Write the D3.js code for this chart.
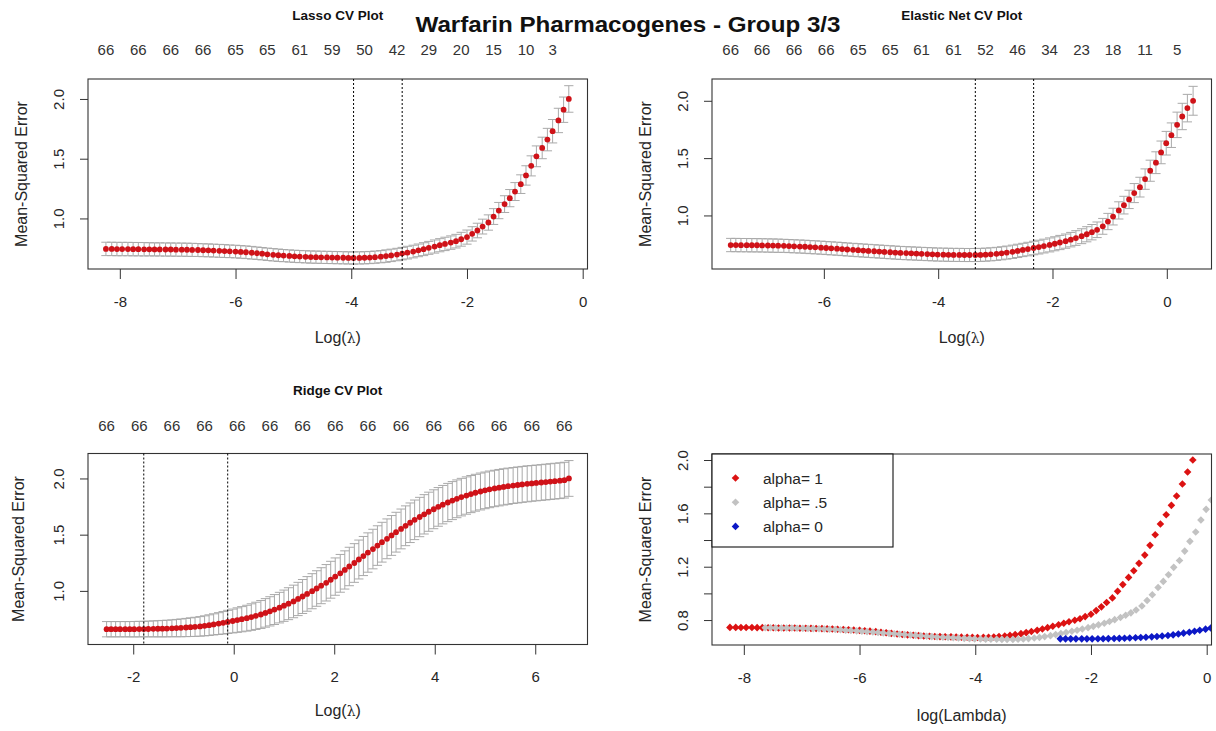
<!DOCTYPE html>
<html><head><meta charset="utf-8">
<script src="https://cdn.jsdelivr.net/npm/d3@7"></script>
<style>
body{margin:0;background:#fff;}
svg{display:block;}
</style></head><body>
<svg id="chart" width="1216" height="731"></svg>
<script>
// ---------------- DATA ----------------
const mainTitle = "Warfarin Pharmacogenes - Group 3/3";

// Lasso (alpha = 1)
const lassoLogLambda = [-8.24,-8.14,-8.05,-7.96,-7.86,-7.77,-7.68,-7.58,-7.49,-7.40,
 -7.31,-7.21,-7.12,-7.03,-6.93,-6.84,-6.75,-6.65,-6.56,-6.47,
 -6.38,-6.28,-6.19,-6.10,-6.00,-5.91,-5.82,-5.72,-5.63,-5.54,
 -5.45,-5.35,-5.26,-5.17,-5.07,-4.98,-4.89,-4.79,-4.70,-4.61,
 -4.52,-4.42,-4.33,-4.24,-4.14,-4.05,-3.96,-3.86,-3.77,-3.68,
 -3.59,-3.49,-3.40,-3.31,-3.21,-3.12,-3.03,-2.93,-2.84,-2.75,
 -2.66,-2.56,-2.47,-2.38,-2.28,-2.19,-2.10,-2.00,-1.91,-1.82,
 -1.73,-1.63,-1.54,-1.45,-1.35,-1.26,-1.17,-1.07,-0.98,-0.89,
 -0.80,-0.70,-0.61,-0.52,-0.42,-0.33,-0.24];
const lassoCvm = [0.745,0.745,0.744,0.744,0.744,0.743,0.743,0.742,0.742,0.741,
 0.741,0.740,0.740,0.739,0.739,0.738,0.737,0.736,0.734,0.733,
 0.731,0.729,0.727,0.725,0.723,0.720,0.717,0.713,0.709,0.705,
 0.700,0.696,0.692,0.689,0.686,0.683,0.681,0.679,0.677,0.676,
 0.675,0.674,0.673,0.672,0.671,0.670,0.669,0.670,0.671,0.673,
 0.676,0.680,0.685,0.691,0.698,0.706,0.714,0.723,0.733,0.743,
 0.754,0.765,0.776,0.787,0.798,0.810,0.826,0.844,0.871,0.899,
 0.932,0.966,1.016,1.066,1.120,1.170,1.225,1.287,1.360,1.440,
 1.520,1.590,1.660,1.730,1.820,1.910,2.000];
const lassoCvsd = [0.056,0.056,0.056,0.056,0.056,0.056,0.056,0.056,0.055,0.055,
 0.055,0.055,0.055,0.055,0.055,0.055,0.055,0.054,0.054,0.054,
 0.054,0.054,0.054,0.053,0.053,0.053,0.053,0.053,0.052,0.052,
 0.052,0.052,0.052,0.051,0.051,0.051,0.051,0.051,0.051,0.051,
 0.051,0.051,0.051,0.051,0.051,0.051,0.051,0.051,0.051,0.051,
 0.051,0.051,0.052,0.052,0.052,0.052,0.053,0.053,0.053,0.054,
 0.054,0.055,0.055,0.056,0.056,0.057,0.058,0.059,0.060,0.061,
 0.062,0.064,0.066,0.068,0.070,0.072,0.075,0.078,0.081,0.084,
 0.087,0.090,0.094,0.098,0.102,0.106,0.111];
const lassoTopIdx = [0,6,12,18,24,30,36,42,48,54,60,66,72,78,83];
const lassoTopLabels = ["66","66","66","66","65","65","61","59","50","42","29","20","15","10","3"];
const lassoVLines = [-3.96,-3.12];

// Elastic net (alpha = 0.5)
const enLogLambda = [-7.63,-7.54,-7.45,-7.35,-7.26,-7.17,-7.08,-6.98,-6.89,-6.80,
 -6.70,-6.61,-6.52,-6.42,-6.33,-6.24,-6.15,-6.05,-5.96,-5.87,
 -5.77,-5.68,-5.59,-5.49,-5.40,-5.31,-5.22,-5.12,-5.03,-4.94,
 -4.84,-4.75,-4.66,-4.56,-4.47,-4.38,-4.29,-4.19,-4.10,-4.01,
 -3.91,-3.82,-3.73,-3.63,-3.54,-3.45,-3.35,-3.26,-3.17,-3.08,
 -2.98,-2.89,-2.80,-2.70,-2.61,-2.52,-2.43,-2.33,-2.24,-2.15,
 -2.05,-1.96,-1.87,-1.77,-1.68,-1.59,-1.49,-1.40,-1.31,-1.22,
 -1.12,-1.03,-0.94,-0.84,-0.75,-0.66,-0.57,-0.47,-0.38,-0.29,
 -0.19,-0.10,-0.01,0.08,0.18,0.27,0.36,0.46];
const enCvm = [0.742,0.742,0.741,0.741,0.740,0.740,0.739,0.738,0.737,0.736,
 0.735,0.733,0.731,0.729,0.727,0.724,0.722,0.719,0.716,0.713,
 0.710,0.707,0.703,0.700,0.697,0.694,0.691,0.688,0.685,0.682,
 0.679,0.676,0.673,0.671,0.669,0.667,0.665,0.663,0.661,0.659,
 0.658,0.657,0.656,0.656,0.655,0.655,0.655,0.656,0.658,0.661,
 0.665,0.670,0.676,0.683,0.691,0.699,0.707,0.716,0.724,0.733,
 0.743,0.753,0.764,0.776,0.789,0.803,0.819,0.836,0.854,0.875,
 0.905,0.947,0.990,1.044,1.090,1.140,1.195,1.247,1.317,1.390,
 1.460,1.550,1.630,1.700,1.790,1.863,1.936,2.000];
const enCvsd = [0.058,0.058,0.058,0.058,0.058,0.058,0.058,0.058,0.058,0.058,
 0.057,0.057,0.057,0.057,0.057,0.057,0.057,0.057,0.057,0.057,
 0.057,0.057,0.057,0.057,0.057,0.057,0.057,0.057,0.057,0.057,
 0.057,0.057,0.057,0.057,0.057,0.057,0.057,0.057,0.057,0.057,
 0.057,0.057,0.057,0.057,0.057,0.057,0.057,0.057,0.057,0.057,
 0.057,0.057,0.057,0.058,0.058,0.058,0.059,0.059,0.060,0.060,
 0.061,0.061,0.062,0.062,0.063,0.064,0.065,0.066,0.067,0.068,
 0.069,0.071,0.073,0.075,0.077,0.080,0.083,0.086,0.089,0.092,
 0.095,0.099,0.103,0.107,0.111,0.115,0.120,0.126];
const enTopIdx = [0,6,12,18,24,30,36,42,48,54,60,66,72,78,84];
const enTopLabels = ["66","66","66","66","65","65","61","61","52","46","34","23","18","11","5"];
const enVLines = [-3.35,-2.33];

// Ridge (alpha = 0)
const ridgeLogLambda = [-2.53,-2.44,-2.35,-2.26,-2.16,-2.07,-1.98,-1.88,-1.79,-1.70,
 -1.60,-1.51,-1.42,-1.33,-1.23,-1.14,-1.05,-0.95,-0.86,-0.77,
 -0.67,-0.58,-0.49,-0.40,-0.30,-0.21,-0.12,-0.02,0.07,0.16,
 0.26,0.35,0.44,0.54,0.63,0.72,0.81,0.91,1.00,1.09,
 1.19,1.28,1.37,1.46,1.56,1.65,1.74,1.84,1.93,2.02,
 2.12,2.21,2.30,2.40,2.49,2.58,2.67,2.77,2.86,2.95,
 3.05,3.14,3.23,3.33,3.42,3.51,3.60,3.70,3.79,3.88,
 3.98,4.07,4.16,4.26,4.35,4.44,4.53,4.63,4.72,4.81,
 4.91,5.00,5.09,5.19,5.28,5.37,5.46,5.56,5.65,5.74,
 5.84,5.93,6.02,6.12,6.21,6.30,6.39,6.49,6.58,6.67];
const ridgeCvm = [0.659,0.659,0.659,0.659,0.659,0.659,0.659,0.660,0.660,0.661,
 0.662,0.663,0.664,0.665,0.667,0.669,0.671,0.674,0.677,0.680,
 0.684,0.689,0.695,0.702,0.709,0.716,0.724,0.732,0.740,0.748,
 0.757,0.767,0.778,0.790,0.804,0.818,0.834,0.851,0.868,0.886,
 0.906,0.928,0.950,0.973,0.997,1.021,1.046,1.072,1.099,1.127,
 1.156,1.186,1.217,1.248,1.279,1.310,1.341,1.372,1.403,1.433,
 1.463,1.493,1.522,1.551,1.579,1.606,1.632,1.657,1.681,1.704,
 1.726,1.747,1.767,1.786,1.803,1.819,1.834,1.848,1.861,1.873,
 1.884,1.894,1.903,1.911,1.918,1.925,1.931,1.937,1.942,1.947,
 1.952,1.956,1.960,1.964,1.968,1.972,1.976,1.980,1.985,2.000];
const ridgeCvsd = [0.068,0.068,0.068,0.068,0.068,0.068,0.069,0.069,0.069,0.070,
 0.071,0.072,0.073,0.074,0.075,0.077,0.079,0.081,0.083,0.085,
 0.087,0.089,0.092,0.094,0.097,0.100,0.103,0.106,0.109,0.112,
 0.115,0.118,0.121,0.124,0.127,0.130,0.133,0.136,0.139,0.142,
 0.145,0.148,0.151,0.154,0.156,0.158,0.160,0.162,0.164,0.166,
 0.168,0.170,0.171,0.172,0.173,0.174,0.175,0.176,0.176,0.177,
 0.177,0.177,0.177,0.177,0.177,0.176,0.176,0.175,0.175,0.174,
 0.173,0.172,0.171,0.170,0.169,0.168,0.167,0.166,0.165,0.164,
 0.164,0.163,0.163,0.162,0.162,0.161,0.161,0.160,0.160,0.160,
 0.160,0.159,0.159,0.159,0.159,0.159,0.159,0.159,0.159,0.159];
const ridgeTopIdx = [0,7,14,21,28,35,42,49,56,63,70,77,84,91,98];
const ridgeTopLabels = ["66","66","66","66","66","66","66","66","66","66","66","66","66","66","66"];
const ridgeVLines = [-1.79,-0.12];

// Axis ticks
const lassoXTicks = [-8,-6,-4,-2,0];
const enXTicks = [-6,-4,-2,0];
const ridgeXTicks = [-2,0,2,4,6];
const cvYTicks = [1.0,1.5,2.0];
const cmpXTicks = [-8,-6,-4,-2,0];
const cmpYTicks = [0.8,1.0,1.2,1.4,1.6,1.8,2.0];
const cmpYLabels = [0.8,1.2,1.6,2.0];
const legendLabels = ["alpha= 1","alpha= .5","alpha= 0"];
const legendColors = ["#dc1212","#c2c2c2","#0c18c6"];

// ---------------- DRAWING ----------------
const svg = d3.select("#chart");
const FONT = '"Liberation Sans", Arial, Helvetica, sans-serif';
const INK = "#262626";

svg.append("rect").attr("width",1216).attr("height",731).attr("fill","#fff");

function frame(cfg) {
  const g = svg.append("g");
  const b = cfg.box;
  const x = d3.scaleLinear().domain(cfg.xDomain).range([b.x0, b.x1]);
  const y = d3.scaleLinear().domain(cfg.yDomain).range([b.y1, b.y0]);
  const clipId = "clip-" + cfg.id;
  svg.append("clipPath").attr("id", clipId).append("rect")
    .attr("x", b.x0).attr("y", b.y0).attr("width", b.x1 - b.x0).attr("height", b.y1 - b.y0);
  const plot = g.append("g").attr("clip-path", `url(#${clipId})`);

  const xa = g.append("g").attr("transform", `translate(0,${b.y1})`)
    .call(d3.axisBottom(x).tickValues(cfg.xTicks).tickSize(10).tickFormat(d => String(d)));
  xa.select(".domain").remove();
  xa.attr("font-size", 15).attr("font-family", FONT).attr("color", INK);
  xa.selectAll(".tick line").attr("stroke", "#333");
  xa.selectAll(".tick text").attr("y", cfg.xLabelOffset).attr("dy", null);

  const ya = g.append("g").attr("transform", `translate(${b.x0},0)`)
    .call(d3.axisLeft(y).tickValues(cfg.yTicks).tickSize(8)
      .tickFormat(d => cfg.yLabels.includes(d) ? d.toFixed(1) : ""));
  ya.select(".domain").remove();
  ya.attr("font-size", 15).attr("font-family", FONT).attr("color", INK);
  ya.selectAll(".tick line").attr("stroke", "#333");
  ya.selectAll(".tick text").attr("x", null).attr("dy", null).attr("text-anchor", "middle")
    .attr("transform", "translate(-24,0) rotate(-90)");

  g.append("rect").attr("x", b.x0).attr("y", b.y0)
    .attr("width", b.x1 - b.x0).attr("height", b.y1 - b.y0)
    .attr("fill", "none").attr("stroke", "#333").attr("stroke-width", 1.1);

  // axis titles
  const cx = (b.x0 + b.x1) / 2;
  const xt = g.append("text").attr("x", cx).attr("y", cfg.xTitleY)
    .attr("text-anchor", "middle").attr("font-family", FONT).attr("font-size", 16).attr("fill", INK);
  if (cfg.lambdaTitle) {
    xt.append("tspan").text("Log(");
    xt.append("tspan").attr("font-family", '"DejaVu Serif","Liberation Serif",serif').attr("font-size", 14).text("λ");
    xt.append("tspan").text(")");
  } else {
    xt.text(cfg.xTitle);
  }
  g.append("text")
    .attr("transform", `translate(${b.x0 - cfg.yTitleGap},${(b.y0 + b.y1) / 2}) rotate(-90)`)
    .attr("text-anchor", "middle").attr("font-family", FONT).attr("font-size", 16).attr("fill", INK)
    .text("Mean-Squared Error");
  return { g, plot, x, y };
}

function cvPanel(cfg) {
  const { g, plot, x, y } = frame(cfg);
  const b = cfg.box;
  const pts = cfg.lx.map((v, i) => ({ lx: v, m: cfg.cvm[i], s: cfg.cvsd[i] }));
  const barw = 0.01 * (d3.max(cfg.lx) - d3.min(cfg.lx));
  plot.append("g").attr("stroke", "#a9a9a9").attr("stroke-width", 1).attr("fill", "none")
    .selectAll("path").data(pts).join("path")
    .attr("d", d => {
      const up = y(d.m + d.s), lo = y(d.m - d.s);
      return `M${x(d.lx)},${up}V${lo}M${x(d.lx - barw)},${up}H${x(d.lx + barw)}M${x(d.lx - barw)},${lo}H${x(d.lx + barw)}`;
    });
  plot.append("g").attr("fill", "#cf1218")
    .selectAll("circle").data(pts).join("circle")
    .attr("cx", d => x(d.lx)).attr("cy", d => y(d.m)).attr("r", 2.9);
  g.append("g").attr("stroke", "#000").attr("stroke-width", 1).attr("stroke-dasharray", "2,2")
    .selectAll("line").data(cfg.vlines).join("line")
    .attr("x1", d => x(d)).attr("x2", d => x(d)).attr("y1", b.y0).attr("y2", b.y1);
  g.append("g").attr("font-family", FONT).attr("font-size", 15).attr("fill", "#333")
    .attr("text-anchor", "middle")
    .selectAll("text").data(cfg.topIdx).join("text")
    .attr("x", (d) => x(cfg.lx[d])).attr("y", cfg.topY)
    .text((d, i) => cfg.topLabels[i]);
  g.append("text").attr("x", (b.x0 + b.x1) / 2).attr("y", cfg.titleY)
    .attr("text-anchor", "middle").attr("font-family", FONT).attr("font-weight", "bold")
    .attr("font-size", 13.5).attr("fill", "#111").text(cfg.title);
}

cvPanel({
  id: "lasso", box: { x0: 88, x1: 587.5, y0: 79, y1: 269 },
  xDomain: [-8.55, 0.083], yDomain: [0.577, 2.167],
  xTicks: lassoXTicks, yTicks: cvYTicks, yLabels: cvYTicks, xLabelOffset: 38,
  xTitleY: 343, lambdaTitle: true, yTitleGap: 61,
  lx: lassoLogLambda, cvm: lassoCvm, cvsd: lassoCvsd, vlines: lassoVLines,
  topIdx: lassoTopIdx, topLabels: lassoTopLabels, topY: 55,
  title: "Lasso CV Plot", titleY: 20
});
cvPanel({
  id: "enet", box: { x0: 712, x1: 1211.5, y0: 79, y1: 269 },
  xDomain: [-7.957, 0.782], yDomain: [0.533, 2.19],
  xTicks: enXTicks, yTicks: cvYTicks, yLabels: cvYTicks, xLabelOffset: 38,
  xTitleY: 343, lambdaTitle: true, yTitleGap: 61,
  lx: enLogLambda, cvm: enCvm, cvsd: enCvsd, vlines: enVLines,
  topIdx: enTopIdx, topLabels: enTopLabels, topY: 55,
  title: "Elastic Net CV Plot", titleY: 20
});
cvPanel({
  id: "ridge", box: { x0: 88, x1: 587.5, y0: 453.5, y1: 644.5 },
  xDomain: [-2.9, 7.04], yDomain: [0.523, 2.222],
  xTicks: ridgeXTicks, yTicks: cvYTicks, yLabels: cvYTicks, xLabelOffset: 37.5,
  xTitleY: 716, lambdaTitle: true, yTitleGap: 64,
  lx: ridgeLogLambda, cvm: ridgeCvm, cvsd: ridgeCvsd, vlines: ridgeVLines,
  topIdx: ridgeTopIdx, topLabels: ridgeTopLabels, topY: 430.5,
  title: "Ridge CV Plot", titleY: 395
});

// Comparison panel
(function () {
  const cfg = {
    id: "cmp", box: { x0: 712, x1: 1211.5, y0: 454, y1: 645 },
    xDomain: [-8.55, 0.083], yDomain: [0.613, 2.045],
    xTicks: cmpXTicks, yTicks: cmpYTicks, yLabels: cmpYLabels, xLabelOffset: 38,
    xTitleY: 721, lambdaTitle: false, xTitle: "log(Lambda)", yTitleGap: 61
  };
  const { g, plot, x, y } = frame(cfg);
  const diamond = "M0,-3.8L3.8,0L0,3.8L-3.8,0Z";
  const series = [
    { lx: lassoLogLambda, v: lassoCvm, c: legendColors[0] },
    { lx: enLogLambda, v: enCvm, c: legendColors[1] },
    { lx: ridgeLogLambda, v: ridgeCvm, c: legendColors[2] }
  ];
  series.forEach(s => {
    plot.append("g").attr("fill", s.c)
      .selectAll("path").data(s.lx.map((lx, i) => [lx, s.v[i]])).join("path")
      .attr("d", diamond)
      .attr("transform", d => `translate(${x(d[0])},${y(d[1])})`);
  });
  const b = cfg.box;
  const lg = g.append("g");
  lg.append("rect").attr("x", b.x0).attr("y", b.y0).attr("width", 181).attr("height", 93)
    .attr("fill", "#fff").attr("stroke", "#111").attr("stroke-width", 1.1);
  const rows = lg.selectAll("g.row").data(legendLabels).join("g")
    .attr("transform", (d, i) => `translate(${b.x0},${b.y0 + 24 + i * 24.2})`);
  rows.append("path").attr("d", "M0,-3.8L3.8,0L0,3.8L-3.8,0Z")
    .attr("transform", "translate(23.5,0)").attr("fill", (d, i) => legendColors[i]);
  rows.append("text").attr("x", 51).attr("y", 5.5)
    .attr("font-family", FONT).attr("font-size", 15.5).attr("fill", INK).text(d => d);
})();

// Main title
svg.append("text").attr("x", 628).attr("y", 31.5).attr("text-anchor", "middle")
  .attr("font-family", FONT).attr("font-weight", "bold").attr("font-size", 22)
  .attr("textLength", 425).attr("lengthAdjust", "spacingAndGlyphs")
  .attr("fill", "#111").text(mainTitle);
</script>
</body></html>
